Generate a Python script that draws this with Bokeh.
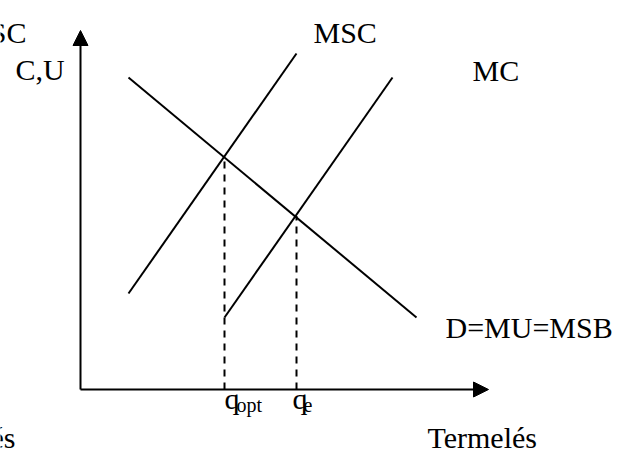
from bokeh.plotting import figure
from bokeh.models import Range1d, Arrow, NormalHead
from bokeh.core.properties import value
from bokeh.embed import file_html
from bokeh.resources import INLINE

# ---- data (economic units) ----
# demand = marginal utility = marginal social benefit
d_q = [12, 84]
d_p = [78, 18]
# marginal social cost
msc_q = [12, 54]
msc_p = [24, 84]
# private marginal cost
mc_q = [36, 78]
mc_p = [18, 78]
# equilibrium points
q_points = [36, 54]       # q_opt, q_e
p_points = [58.2, 43.4]
q_labels = ["q", "q"]
q_subs = ["opt", "e"]

# axis extents
x_axis_end = 102
y_axis_end = 89.75

# label positions (data units)
q_lbl_x = [36, 53]
q_lbl_y = [-2.25, -2.25]
sub_lbl_x = [39, 55.75]
sub_lbl_y = [-3.75, -3.75]

p = figure(width=622, height=450,
           x_range=Range1d(-20, 135.5), y_range=Range1d(-15.25, 97.25),
           output_backend="svg", toolbar_location=None, min_border=0)
p.axis.visible = False
p.grid.visible = False
p.outline_line_color = None

# axes with arrow heads
p.add_layout(Arrow(end=NormalHead(size=15), x_start=0, y_start=0, x_end=0, y_end=y_axis_end,
                   line_width=2))
p.add_layout(Arrow(end=NormalHead(size=15), x_start=0, y_start=0, x_end=x_axis_end, y_end=0,
                   line_width=2))

# curves
p.line(d_q, d_p, line_width=2, line_color="black")
p.line(msc_q, msc_p, line_width=2, line_color="black")
p.line(mc_q, mc_p, line_width=2, line_color="black")

# dashed drop lines
p.segment(x0=q_points, y0=[0, 0], x1=q_points, y1=p_points,
          line_width=2, line_color="black", line_dash="7 6")

# curve and axis labels
p.text(x=[58.25], y=[89.25], text=["MSC"], text_font=value("Liberation Serif"),
       text_font_size="30px", text_align="left", text_baseline="alphabetic")
p.text(x=[98], y=[79.75], text=["MC"], text_font=value("Liberation Serif"),
       text_font_size="30px", text_align="left", text_baseline="alphabetic")
p.text(x=[-16.25], y=[80], text=["C,U"], text_font=value("Liberation Serif"),
       text_font_size="30px", text_align="left", text_baseline="alphabetic")
p.text(x=[91.25], y=[15.5], text=["D=MU=MSB"], text_font=value("Liberation Serif"),
       text_font_size="30px", text_align="left", text_baseline="alphabetic")
p.text(x=[86.75], y=[-12], text=["Termelés"], text_font=value("Liberation Serif"),
       text_font_size="30px", text_align="left", text_baseline="alphabetic")
p.text(x=[-13.5], y=[89.25], text=["MSC"], text_font=value("Liberation Serif"),
       text_font_size="30px", text_align="right", text_baseline="alphabetic")
p.text(x=[-16.25], y=[-12], text=["Termelés"], text_font=value("Liberation Serif"),
       text_font_size="30px", text_align="right", text_baseline="alphabetic")

# quantity labels
p.text(x=q_lbl_x, y=q_lbl_y, text=q_labels,
       text_font=value("Liberation Serif"), text_font_size="30px",
       text_align="left", text_baseline="alphabetic")
p.text(x=sub_lbl_x, y=sub_lbl_y, text=q_subs,
       text_font=value("Liberation Serif"), text_font_size="20px",
       text_align="left", text_baseline="alphabetic")

open("out.html", "w").write(file_html(p, INLINE))
